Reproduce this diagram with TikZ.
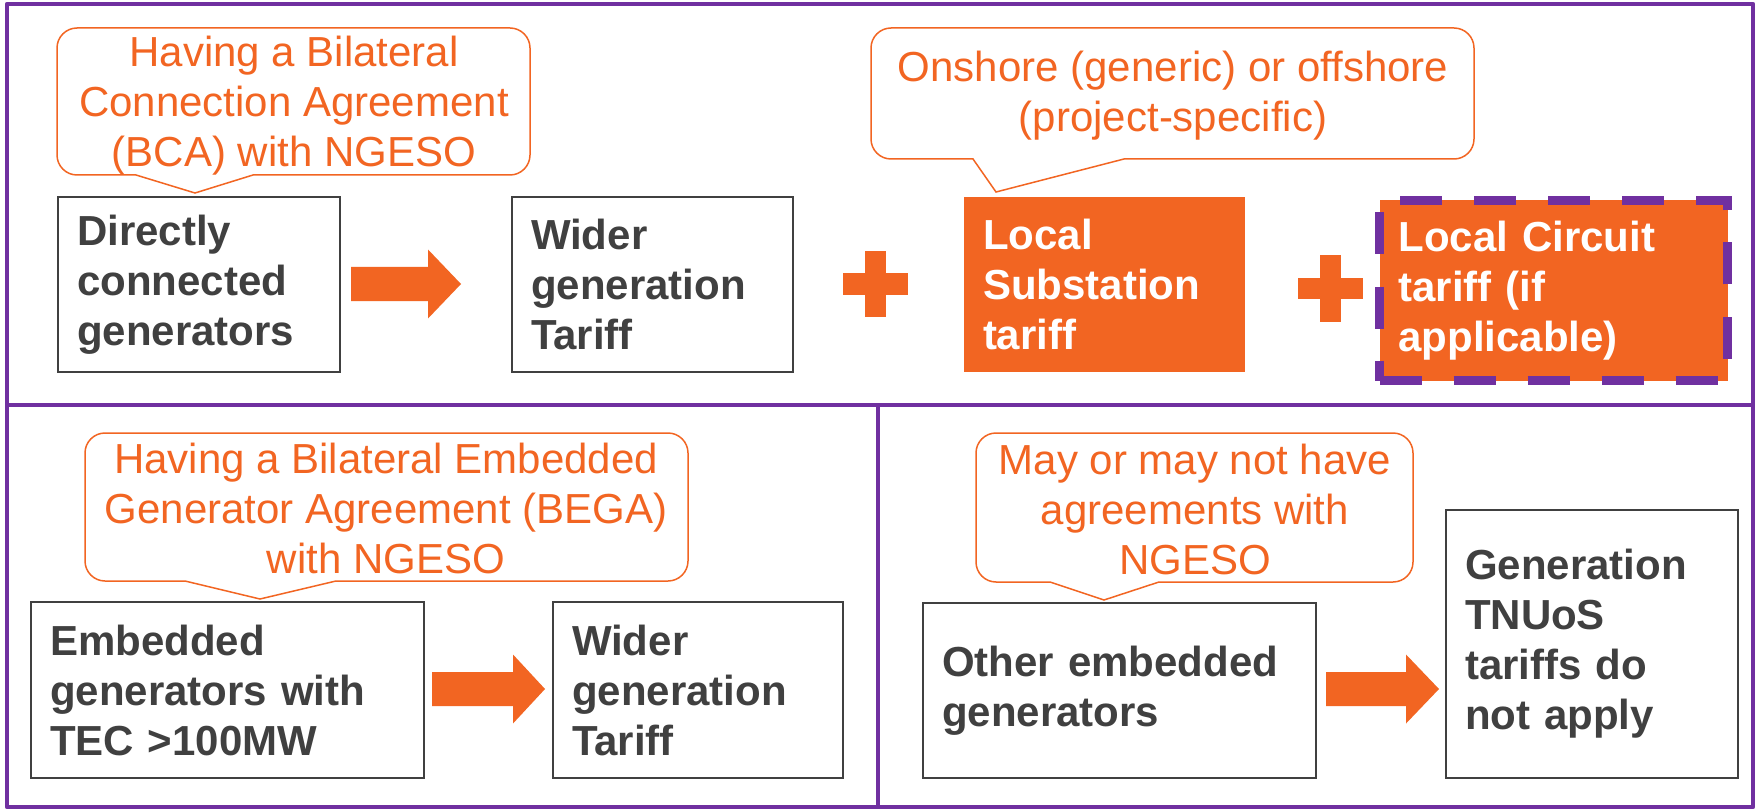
\documentclass[tikz,border=0pt]{standalone}
\usepackage{fontspec}
\setmainfont{Liberation Sans}
\definecolor{myorange}{HTML}{F26522}
\definecolor{mypurple}{HTML}{7030A0}
\definecolor{mygray}{HTML}{404040}
\newcommand{\bubblepath}[8]{%
  \draw[bubble] (#1+20,#2) -- (#3-20,#2) .. controls (#3-9,#2) and (#3,#2+9) .. (#3,#2+20)
    -- (#3,#4-20) .. controls (#3,#4-9) and (#3-9,#4) .. (#3-20,#4)
    -- (#6,#4) -- (#7,#8) -- (#5,#4)
    -- (#1+20,#4) .. controls (#1+9,#4) and (#1,#4-9) .. (#1,#4-20)
    -- (#1,#2+20) .. controls (#1,#2+9) and (#1+9,#2) .. (#1+20,#2) -- cycle;}
\newcommand{\blockarrow}[4]{%
  \fill[myorange] (#1,#4-17) -- (#2,#4-17) -- (#2,#4-34.5) -- (#3,#4) -- (#2,#4+34.5) -- (#2,#4+17) -- (#1,#4+17) -- cycle;}
\newcommand{\plussign}[2]{%
  \fill[myorange] (#1-10.5,#2-33) rectangle (#1+10.5,#2+33);
  \fill[myorange] (#1-32.5,#2-10.5) rectangle (#1+32.5,#2+10.5);}
\begin{document}
\begin{tikzpicture}[x=1pt,y=-1pt,
  frame/.style={draw=mypurple, line width=4.5pt, line join=round},
  bubble/.style={draw=myorange, line width=1.5pt, fill=white, line join=miter},
  ctext/.style={anchor=base, align=center, inner sep=0pt, text=myorange,
    font=\fontsize{42}{50}\selectfont},
  gbox/.style={draw=mygray, line width=2pt, fill=white, anchor=north west,
    align=left, inner xsep=19pt, inner ysep=0pt, text=mygray,
    font=\bfseries\fontsize{42}{50}\selectfont},
  obox/.style={gbox, draw=none, fill=myorange, text=white},
  dbox/.style={obox, draw=mypurple, line width=9pt, dash pattern=on 42pt off 32pt}]
\useasboundingbox (0,0) rectangle (1758,810);
\fill[white] (0,0) rectangle (1758,810);
% frames
\draw[frame] (7,4) rectangle (1753,405);
\draw[frame] (7,405) rectangle (878,807);
\draw[frame] (878,405) rectangle (1753,807);
% callout bubbles
\bubblepath{57}{28}{530}{175}{136}{253}{195}{193}
\bubblepath{871}{28}{1474}{159}{973}{1124}{996}{192}
\bubblepath{85}{433}{688}{581}{185}{336}{260}{599}
\bubblepath{976}{433}{1413}{582}{1050}{1159}{1104}{600}
% boxes
\node[gbox, text width=244pt, minimum width=282pt, minimum height=175pt] (b1) at (57,196) {Directly\\connected\\generators};
\node[gbox, text width=243pt, minimum width=281pt, minimum height=175pt] (b2) at (511,196) {Wider\\generation\\Tariff};
\node[obox, text width=243pt, minimum width=281pt, minimum height=175pt] (b3) at (963,196) {Local\\Substation\\tariff};
\node[dbox, text width=310pt, minimum width=348pt, minimum height=180pt] (b4) at (1375,196) {Local Circuit\\tariff (if\\applicable)};
\node[gbox, text width=355pt, minimum width=393pt, minimum height=176pt] (b5) at (30,601) {Embedded\\generators with\\TEC >100MW};
\node[gbox, text width=252pt, minimum width=290pt, minimum height=176pt] (b6) at (552,601) {Wider\\generation\\Tariff};
\node[gbox, text width=355pt, minimum width=393pt, minimum height=175pt] (b7) at (922,602) {Other embedded\\generators};
\node[gbox, text width=254pt, minimum width=292pt, minimum height=268pt] (b8) at (1445,509) {Generation\\TNUoS\\tariffs do\\not apply};
% callout texts (anchored at last baseline)
\node[ctext] (t1) at (294,167) {Having a Bilateral\\Connection Agreement\\(BCA) with NGESO};
\node[ctext] (t2) at (1173,132) {Onshore (generic) or offshore\\(project-specific)};
\node[ctext] (t3) at (386,573) {Having a Bilateral Embedded\\Generator Agreement (BEGA)\\with NGESO};
\node[ctext] (t4) at (1195,574) {May or may not have\\agreements with\\NGESO};
% block arrows and plus signs
\blockarrow{351}{428}{461}{284}
\blockarrow{432}{513}{545}{689}
\blockarrow{1326}{1406}{1439}{689}
\plussign{875.5}{284}
\plussign{1330.5}{288.5}
\end{tikzpicture}
\end{document}
